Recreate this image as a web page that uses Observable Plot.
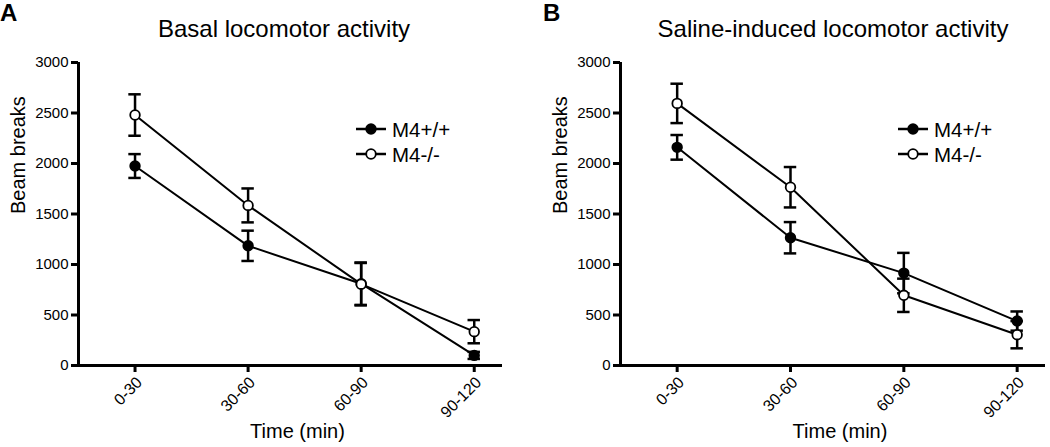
<!DOCTYPE html>
<html><head><meta charset="utf-8">
<script src="https://cdn.jsdelivr.net/npm/d3@7"></script>
<script src="https://cdn.jsdelivr.net/npm/@observablehq/plot@0.6"></script>
<style>
body{margin:0;background:#fff;font-family:"Liberation Sans",Arial,Helvetica,sans-serif;}
#wrap{display:flex;width:1050px;height:447px;overflow:hidden;}
.panel{position:relative;flex:none;}
.panel > svg{display:block;}
.legend{position:absolute;left:340px;top:110px;}
</style></head><body><div id="wrap"></div>
<script>
// ---- data ----
const timeLabels = ["0-30", "30-60", "60-90", "90-120"];
const groups = ["M4+/+", "M4-/-"];
const yTicks = [0, 500, 1000, 1500, 2000, 2500, 3000];

const panelLetters = ["A", "B"];
const panelTitles = ["Basal locomotor activity", "Saline-induced locomotor activity"];

const basalWT = [1975, 1185, 810, 100];
const basalWTse = [118, 150, 210, 35];
const basalKO = [2480, 1585, 805, 335];
const basalKOse = [205, 168, 210, 115];

const salineWT = [2160, 1265, 915, 440];
const salineWTse = [122, 155, 200, 95];
const salineKO = [2595, 1765, 695, 305];
const salineKOse = [195, 200, 165, 135];

// ---- build tables ----
function rowsFor(wt, wtse, ko, kose) {
  const rows = [];
  timeLabels.forEach((lab, i) => {
    rows.push({group: groups[0], t: i, value: wt[i], se: wtse[i]});
    rows.push({group: groups[1], t: i, value: ko[i], se: kose[i]});
  });
  return rows;
}
const tickRows = timeLabels.map((label, i) => ({t: i, label}));
const panels = [
  {rows: rowsFor(basalWT, basalWTse, basalKO, basalKOse), width: 542, marginRight: 40},
  {rows: rowsFor(salineWT, salineWTse, salineKO, salineKOse), width: 508, marginRight: 5}
];

const font = '"Liberation Sans", Arial, Helvetica, sans-serif';
const cap = 0.055;

const wrap = document.getElementById("wrap");
panels.forEach((p, k) => {
  const div = document.createElement("div");
  div.className = "panel";
  div.style.width = p.width + "px";

  // header (letter + title)
  const ns = "http://www.w3.org/2000/svg";
  const head = document.createElementNS(ns, "svg");
  head.setAttribute("width", p.width);
  head.setAttribute("height", 50);
  head.style.display = "block";
  const letter = document.createElementNS(ns, "text");
  letter.setAttribute("x", k === 0 ? 0 : 1);
  letter.setAttribute("y", 20.5);
  letter.setAttribute("font-family", font);
  letter.setAttribute("font-weight", "bold");
  letter.setAttribute("font-size", 24);
  letter.textContent = panelLetters[k];
  head.appendChild(letter);
  const title = document.createElementNS(ns, "text");
  title.setAttribute("x", k === 0 ? 284 : 291);
  title.setAttribute("y", 37);
  title.setAttribute("text-anchor", "middle");
  title.setAttribute("font-family", font);
  title.setAttribute("font-size", 24);
  title.textContent = panelTitles[k];
  head.appendChild(title);
  div.appendChild(head);

  const chart = Plot.plot({
    width: p.width,
    height: 397,
    marginTop: 12,
    marginBottom: 82,
    marginLeft: 78,
    marginRight: p.marginRight,
    style: {fontFamily: font, fontSize: "15px", color: "black", background: "white", overflow: "visible"},
    x: {type: "linear", domain: [-0.5, 3.25]},
    y: {domain: [0, 3000]},
    color: {domain: groups, range: ["black", "white"]},
    marks: [
      Plot.ruleX([-0.5], {strokeWidth: 3}),
      Plot.ruleY([0], {strokeWidth: 3}),
      Plot.axisY({ticks: yTicks, tickFormat: (d) => String(d), tickSize: 7, tickPadding: 3, fontSize: 15, strokeWidth: 3, label: null}),
      Plot.axisX({ticks: [0, 1, 2, 3], tickFormat: () => "", tickSize: 7, strokeWidth: 3, label: null}),
      Plot.text(tickRows, {x: "t", text: "label", frameAnchor: "bottom", rotate: -45, textAnchor: "end", dx: 8, dy: 18, fontSize: 16}),
      Plot.text(["Beam breaks"], {frameAnchor: "left", rotate: -90, dx: -60, fontSize: 20}),
      Plot.text(["Time (min)"], {frameAnchor: "bottom", dy: 72, dx: 7, fontSize: 20}),
      Plot.ruleX(p.rows, {x: "t", y1: (d) => d.value - d.se, y2: (d) => d.value + d.se, strokeWidth: 2.5}),
      Plot.ruleY(p.rows, {y: (d) => d.value + d.se, x1: (d) => d.t - cap, x2: (d) => d.t + cap, strokeWidth: 2.5}),
      Plot.ruleY(p.rows, {y: (d) => d.value - d.se, x1: (d) => d.t - cap, x2: (d) => d.t + cap, strokeWidth: 2.5}),
      Plot.line(p.rows, {x: "t", y: "value", z: "group", stroke: "black", strokeWidth: 2}),
      Plot.dot(p.rows, {x: "t", y: "value", r: 4.8, fill: "group", stroke: "black", strokeWidth: 1.8})
    ]
  });
  div.appendChild(chart);

  // legend
  const leg = document.createElementNS(ns, "svg");
  leg.setAttribute("class", "legend");
  leg.setAttribute("width", 150);
  leg.setAttribute("height", 60);
  groups.forEach((g, j) => {
    const y = 19 + j * 25;
    const ln = document.createElementNS(ns, "line");
    ln.setAttribute("x1", 16); ln.setAttribute("x2", 46);
    ln.setAttribute("y1", y); ln.setAttribute("y2", y);
    ln.setAttribute("stroke", "black"); ln.setAttribute("stroke-width", 2.5);
    leg.appendChild(ln);
    const c = document.createElementNS(ns, "circle");
    c.setAttribute("cx", 31); c.setAttribute("cy", y); c.setAttribute("r", 4.8);
    c.setAttribute("fill", j === 0 ? "black" : "white");
    c.setAttribute("stroke", "black"); c.setAttribute("stroke-width", 1.8);
    leg.appendChild(c);
    const t = document.createElementNS(ns, "text");
    t.setAttribute("x", 52); t.setAttribute("y", y + 7.5);
    t.setAttribute("font-family", font); t.setAttribute("font-size", 20.5);
    t.textContent = g;
    leg.appendChild(t);
  });
  div.appendChild(leg);

  wrap.appendChild(div);
});
</script></body></html>
